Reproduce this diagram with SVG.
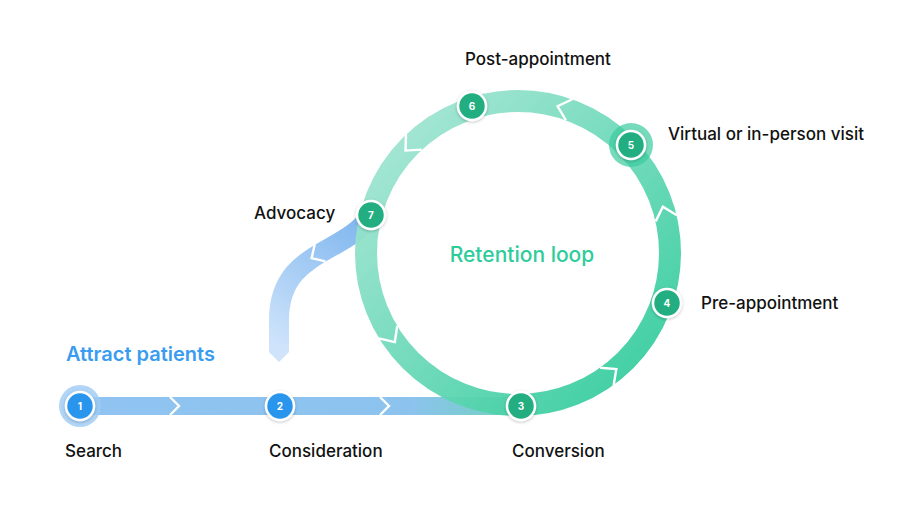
<svg xmlns="http://www.w3.org/2000/svg" width="920" height="518" viewBox="0 0 920 518">
<style>
.lbl{font-family:Inter,"Liberation Sans",sans-serif;font-size:17px;font-weight:500;fill:#111}
.num{font-family:Inter,"Liberation Sans",sans-serif;font-size:10px;font-weight:700;fill:#fff;text-anchor:middle}
.chev{fill:none;stroke:#fff;stroke-width:2.4;stroke-linejoin:miter}
.g{fill:#22ae80;stroke:#fff;stroke-width:2.5;filter:url(#sh)}
.b{fill:#2b95ec;stroke:#fff;stroke-width:2.5;filter:url(#sh)}
</style>
<defs>
<linearGradient id="ring" gradientUnits="userSpaceOnUse" x1="380" y1="120" x2="660" y2="400"><stop offset="0" stop-color="#a6e6d4"/><stop offset="1" stop-color="#2fcb9a"/></linearGradient>
<linearGradient id="br" gradientUnits="userSpaceOnUse" x1="365" y1="220" x2="280" y2="350"><stop offset="0" stop-color="#7fb6ee"/><stop offset="1" stop-color="#cfe4fb"/></linearGradient>
<linearGradient id="hb" gradientUnits="userSpaceOnUse" x1="80" y1="0" x2="521" y2="0"><stop offset="0" stop-color="#90c3f1"/><stop offset="0.75" stop-color="#8cc3ee"/><stop offset="1" stop-color="#6fd2bc"/></linearGradient>
<filter id="sh" x="-50%" y="-50%" width="200%" height="200%"><feDropShadow dx="0" dy="1" stdDeviation="1.5" flood-color="#000" flood-opacity="0.25"/></filter>
</defs>
<g id="connectors">
<rect x="80" y="397" width="441" height="18" fill="url(#hb)"/>
<path d="M371,215 C345,255 279,250 279,320 L279,345" fill="none" stroke="url(#br)" stroke-width="20"/>
<polygon points="269,344 289,344 289,352 279,362 269,352" fill="#cfe4fb"/>
<circle cx="518" cy="253" r="152" fill="none" stroke="url(#ring)" stroke-width="22" opacity="0.95"/>
<path class="chev" d="M-5,-9 L4,0 L-5,9" transform="translate(175,406)"/>
<path class="chev" d="M-5,-9 L4,0 L-5,9" transform="translate(385,406)"/>
<path class="chev" d="M-6,-10 L4,0 L-6,10" transform="translate(315,256) rotate(148)"/>
<path class="chev" d="M-7,-11 L5,0 L-7,11" transform="translate(612.4,372.1) rotate(-38)"/>
<path class="chev" d="M-7,-11 L5,0 L-7,11" transform="translate(664.3,211.6) rotate(-106)"/>
<path class="chev" d="M-7,-11 L5,0 L-7,11" transform="translate(562.4,107.7) rotate(-163)"/>
<path class="chev" d="M-7,-11 L5,0 L-7,11" transform="translate(409,147) rotate(134)"/>
<path class="chev" d="M-7,-11 L5,0 L-7,11" transform="translate(392,338) rotate(56)"/>
</g>
<g id="n1"><circle cx="80" cy="406" r="21" fill="#9ccaf5" opacity="0.8"/><circle class="b" cx="80" cy="406" r="14"/><text class="num" x="80" y="410">1</text><text class="lbl" x="65" y="457">Search</text></g>
<g id="n2"><circle class="b" cx="280" cy="406" r="14"/><text class="num" x="280" y="410">2</text><text class="lbl" x="269" y="457">Consideration</text></g>
<g id="n3"><circle class="g" cx="521" cy="406" r="14"/><text class="num" x="521" y="410">3</text><text class="lbl" x="512" y="457">Conversion</text></g>
<g id="n4"><circle class="g" cx="667" cy="303" r="14"/><text class="num" x="667" y="307">4</text><text class="lbl" x="701" y="309">Pre-appointment</text></g>
<g id="n5"><circle cx="631" cy="145" r="22" fill="#3ccc9e" opacity="0.7"/><circle class="g" cx="631" cy="145" r="14"/><text class="num" x="631" y="149">5</text><text class="lbl" x="668" y="140">Virtual or in-person visit</text></g>
<g id="n6"><circle class="g" cx="472" cy="106" r="14"/><text class="num" x="472" y="110">6</text><text class="lbl" x="465" y="65">Post-appointment</text></g>
<g id="n7"><circle class="g" cx="371" cy="215" r="14"/><text class="num" x="371" y="219">7</text><text class="lbl" x="254" y="219">Advocacy</text></g>
<text x="522" y="262" text-anchor="middle" style="font-family:Inter,'Liberation Sans',sans-serif;font-size:21px;font-weight:500;fill:#2ecc9a">Retention loop</text>
<text x="66" y="361" style="font-family:Inter,'Liberation Sans',sans-serif;font-size:20px;font-weight:600;fill:#3a9cf0">Attract patients</text>
</svg>
